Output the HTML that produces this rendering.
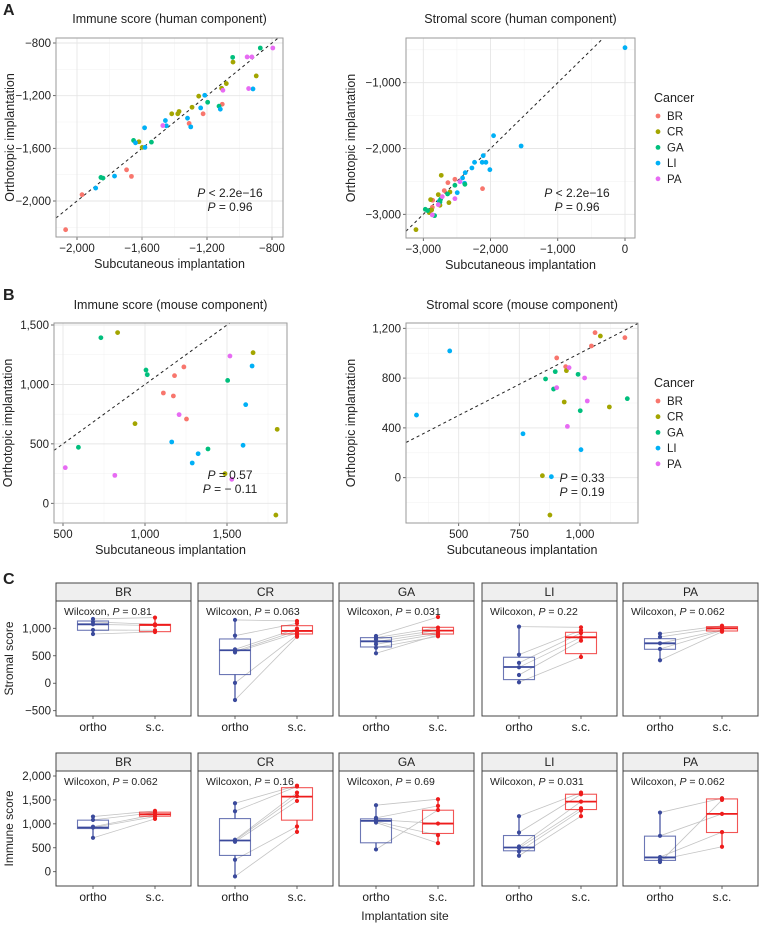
<!DOCTYPE html>
<html><head><meta charset="utf-8"><style>
html,body{margin:0;padding:0;background:#fff;width:760px;height:927px;overflow:hidden;}
svg{display:block;overflow:hidden;}
svg text{font-family:"Liberation Sans",Arial,sans-serif;fill:#222;}
</style></head><body>
<svg id="fig" xmlns="http://www.w3.org/2000/svg" width="760" height="927" viewBox="0 0 760 927">
<text x="3" y="15" font-size="16" font-weight="bold">A</text>
<text x="3" y="300" font-size="16" font-weight="bold">B</text>
<text x="3" y="584" font-size="16" font-weight="bold">C</text>
</svg>
<script>
const NS="http://www.w3.org/2000/svg";
const svg=document.getElementById('fig');
const COLORS={BR:"#F8766D",CR:"#A3A500",GA:"#00BF7D",LI:"#00B0F6",PA:"#E76BF3"};
const cancers=["BR","CR","GA","LI","PA"];

// ---- Panel A left: immune (human)
const aL_x=[-2070,-1969,-1695,-1665,-1310,-1224,-1106, -1040,-897,-1081,-1110,-1251,-1292,-1372,-1380,-1417,-1619,-1599, -872,-1042,-1196,-1126,-1542,-1652,-1853,-1840, -1214,-1239,-1118,-917,-1320,-1300,-1456,-1450,-1584,-1582,-1640,-1769,-1885, -795,-953,-924,-944,-1102,-1472];
const aL_y=[-2218,-1952,-1763,-1813,-1411,-1338,-1265, -945,-1050,-1108,-1144,-1204,-1288,-1320,-1338,-1338,-1550,-1593, -838,-909,-1250,-1280,-1553,-1540,-1821,-1826, -1197,-1293,-1303,-1149,-1371,-1437,-1389,-1429,-1444,-1593,-1558,-1811,-1902, -838,-906,-906,-1146,-1159,-1427];
const aL_c=["BR","BR","BR","BR","BR","BR","BR","CR","CR","CR","CR","CR","CR","CR","CR","CR","CR","CR","GA","GA","GA","GA","GA","GA","GA","GA","LI","LI","LI","LI","LI","LI","LI","LI","LI","LI","LI","LI","LI","PA","PA","PA","PA","PA","PA"];
const aL_xticks=[-2000,-1600,-1200,-800];
const aL_yticks=[-2000,-1600,-1200,-800];
const aL_stats=["P < 2.2e−16","P = 0.96"];

// ---- Panel A right: stromal (human)
const aR_x=[0,-1955,-1545,-2109,-2238,-2124,-2069,-2010,-2277,-2376,-2416,-2386,-2495,-2762, -2530,-2634,-2119,-2688,-2861,-2866, -2733,-2777,-2604,-2619,-2752,-2891,-2876,-2911,-3109, -2530,-2381,-2639,-2743,-2752,-2970,-2832,-2936, -2455,-2530,-2718,-2777,-2866];
const aR_y=[-468,-1805,-1962,-2109,-2210,-2210,-2210,-2322,-2296,-2367,-2448,-2529,-2671,-2803, -2468,-2519,-2610,-2640,-2787,-2894, -2408,-2701,-2661,-2823,-2863,-2777,-2934,-2975,-3233, -2559,-2544,-2691,-2772,-2813,-2924,-3020,-2944, -2504,-2762,-2732,-2853,-3010];
const aR_c=["LI","LI","LI","LI","LI","LI","LI","LI","LI","LI","LI","LI","LI","LI","BR","BR","BR","BR","BR","BR","CR","CR","CR","CR","CR","CR","CR","CR","CR","GA","GA","GA","GA","GA","GA","GA","GA","PA","PA","PA","PA","PA"];
const aR_xticks=[-3000,-2000,-1000,0];
const aR_yticks=[-3000,-2000,-1000];
const aR_stats=["P < 2.2e−16","P = 0.96"];

// ---- Panel B left: immune (mouse)
const bL_x=[731,1006,1014,1504,594,1384, 833,1659,939,1806,1488,1798, 1237,1180,1112,1173,1253, 1653,1614,1163,1598,1324,1288, 1518,1208,514,816,1529];
const bL_y=[1393,1121,1082,1034,471,457, 1436,1267,670,622,249,-99, 1147,1074,928,903,709, 1155,830,516,488,417,339, 1239,746,300,235,202];
const bL_c=["GA","GA","GA","GA","GA","GA","CR","CR","CR","CR","CR","CR","BR","BR","BR","BR","BR","LI","LI","LI","LI","LI","LI","PA","PA","PA","PA","PA"];
const bL_xticks=[500,1000,1500];
const bL_yticks=[0,500,1000,1500];
const bL_stats=["P = 0.57","P = − 0.11"];

// ---- Panel B right: stromal (mouse)
const bR_x=[1062,1047,1185,904,941, 1084,944,935,1121,845,876, 898,992,858,891,1195,1001, 463,326,765,1004,882, 955,1019,904,1030,948];
const bR_y=[1165,1058,1125,962,892, 1138,860,608,568,16,-300, 852,830,793,712,635,538, 1018,503,353,225,8, 884,801,723,616,412];
const bR_c=["BR","BR","BR","BR","BR","CR","CR","CR","CR","CR","CR","GA","GA","GA","GA","GA","GA","LI","LI","LI","LI","LI","PA","PA","PA","PA","PA"];
const bR_xticks=[500,750,1000];
const bR_yticks=[0,400,800,1200];
const bR_stats=["P = 0.33","P = 0.19"];

// ---- Panel C: paired box plots
const c_groups=["BR","CR","GA","LI","PA"];
const str_ortho=[[1170,1116,1073,970,896],[1152,866,616,579,561,6,-305],[860,830,800,757,709,647,545],[1030,520,370,290,150,18],[902,842,727,624,418]];
const str_sc=[[1195,1073,1050,963,933],[1134,1091,994,957,915,878,847],[1205,1012,963,927,896,854,880],[1018,963,915,836,775,478],[1047,1011,969,960,938]];
const str_obox=[[964,1073,1133],[158,600,806],[660,763,830],[66,296,473],[618,727,811]];
const str_sbox=[[939,1061,1073],[897,952,1048],[896,957,1018],[539,836,927],[951,1000,1030]];
const str_p=["0.81","0.063","0.031","0.22","0.062"];
const imm_ortho=[[1152,1083,940,923,708],[1431,1264,667,650,625,250,-98],[1390,1125,1090,1048,1027,465],[1160,819,527,494,423,333],[1236,750,306,250,202]];
const imm_sc=[[1271,1236,1194,1152,1104],[1798,1780,1652,1579,1479,944,833],[1515,1375,1006,765,598,1290],[1652,1619,1465,1327,1278,1160],[1535,1208,827,521,1500]];
const imm_obox=[[902,923,1077],[340,652,1110],[604,1062,1104],[437,506,756],[236,298,743]];
const imm_sbox=[[1160,1200,1244],[1077,1569,1756],[799,1006,1285],[1299,1465,1619],[819,1208,1521]];
const imm_p=["0.062","0.16","0.69","0.031","0.062"];

function el(tag,attrs,parent){const e=document.createElementNS(NS,tag);for(const k in attrs)e.setAttribute(k,attrs[k]);(parent||svg).appendChild(e);return e;}
function txt(s,x,y,attrs,parent){const t=el('text',Object.assign({x:x,y:y},attrs||{}),parent);t.textContent=s;return t;}
function fmt(v){const a=Math.abs(v);const s=a.toLocaleString('en-US');return (v<0?'−':'')+s;}
function lin(d0,p0,d1,p1){return v=>p0+(v-d0)*(p1-p0)/(d1-d0);}
function inv(d0,p0,d1,p1){return p=>d0+(p-p0)*(d1-d0)/(p1-p0);}
function richP(s,x,y,parent,name){
  const t=el('text',{x:x,y:y,'font-size':12,'text-anchor':'middle'},parent);
  
  
  const ts=el('tspan',{'font-style':'italic'},t);ts.textContent='P';
  const r=el('tspan',{},t);r.textContent=s.slice(1);
  return t;
}

function scatter(cfg){
  const g=el('g',{});
  
  
  const [x0,y0,x1,y1]=cfg.box;
  const sx=lin(...cfg.xcal), sy=lin(...cfg.ycal);
  const ix=inv(...cfg.xcal), iy=inv(...cfg.ycal);
  const minor=(ticks)=>{const st=ticks[1]-ticks[0];const m=[];for(let i=-1;i<ticks.length;i++){m.push(ticks[0]+st*(i+0.5));}return m;};
  minor(cfg.xt).forEach(v=>{const p=sx(v);if(p>x0&&p<x1)el('line',{x1:p,x2:p,y1:y0,y2:y1,stroke:'#f3f3f3','stroke-width':0.6},g);});
  minor(cfg.yt).forEach(v=>{const p=sy(v);if(p>y0&&p<y1)el('line',{x1:x0,x2:x1,y1:p,y2:p,stroke:'#f3f3f3','stroke-width':0.6},g);});
  cfg.xt.forEach(v=>{const p=sx(v);
    const l=el('line',{x1:p,x2:p,y1:y0,y2:y1,stroke:'#e6e6e6','stroke-width':0.9},g);
    
    
    el('line',{x1:p,x2:p,y1:y1,y2:y1+3,stroke:'#444','stroke-width':0.8},g);
    const t=txt(fmt(v),p,y1+15,{'font-size':11.5,'text-anchor':'middle'},g);
    
    
  });
  cfg.yt.forEach(v=>{const p=sy(v);
    const l=el('line',{x1:x0,x2:x1,y1:p,y2:p,stroke:'#e6e6e6','stroke-width':0.9},g);
    
    
    el('line',{x1:x0-3,x2:x0,y1:p,y2:p,stroke:'#444','stroke-width':0.8},g);
    const t=txt(fmt(v),x0-5,p+4,{'font-size':11.5,'text-anchor':'end'},g);
    
    
  });
  // identity line clipped to box analytically
  const lo=Math.max(ix(x0),iy(y1)), hi=Math.min(ix(x1),iy(y0));
  const dl=el('line',{x1:sx(lo),y1:sy(lo),x2:sx(hi),y2:sy(hi),stroke:'#222','stroke-width':1,'stroke-dasharray':'3,3'},g);
  
  
  for(let i=0;i<cfg.x.length;i++){
    const c=el('circle',{cx:sx(cfg.x[i]),cy:sy(cfg.y[i]),r:2.4,fill:COLORS[cfg.c[i]]},g);
    
    
  }
  const b=el('rect',{x:x0,y:y0,width:x1-x0,height:y1-y0,fill:'none',stroke:'#9a9a9a','stroke-width':1},g);
  
  
  const tt=txt(cfg.title,(x0+x1)/2,cfg.titleY,{'font-size':12.5,'text-anchor':'middle'},g);
  
  
  const xt=txt('Subcutaneous implantation',(x0+x1)/2,y1+31,{'font-size':12.5,'text-anchor':'middle'},g);
  
  
  const yx=cfg.ytitleX, ym=(y0+y1)/2;
  const yt=txt('Orthotopic implantation',yx,ym,{'font-size':12.5,'text-anchor':'middle',transform:'rotate(-90 '+yx+' '+ym+')'},g);
  
  
  richP(cfg.stats[0],cfg.statXY[0],cfg.statXY[1],g,'p-value-label');
  richP(cfg.stats[1],cfg.statXY[0],cfg.statXY[1]+14,g,'correlation-label');
  if(cfg.legend){
    const [lx,ly]=cfg.legend;
    const lg=el('g',{},g);
    
    
    txt('Cancer',lx,ly,{'font-size':12.5},lg);
    cancers.forEach((k,i)=>{
      const e=el('g',{},lg);
      
      
      el('circle',{cx:lx+4,cy:ly+14+i*15.7,r:2.4,fill:COLORS[k]},e);
      txt(k,lx+13,ly+18+i*15.7,{'font-size':11.5},e);
    });
  }
}

scatter({name:'immune-human-scatter',box:[56,38,283,237],xcal:[-2000,77,-800,272],ycal:[-800,43,-2000,201],xt:aL_xticks,yt:aL_yticks,x:aL_x,y:aL_y,c:aL_c,title:'Immune score (human component)',titleY:23,ytitleX:14,stats:aL_stats,statXY:[230,197]});
scatter({name:'stromal-human-scatter',box:[406,38,635,238],xcal:[-3000,423.3,0,625],ycal:[-1000,82.7,-3000,214.3],xt:aR_xticks,yt:aR_yticks,x:aR_x,y:aR_y,c:aR_c,title:'Stromal score (human component)',titleY:23,ytitleX:355,stats:aR_stats,statXY:[577,197],legend:[654,102]});
scatter({name:'immune-mouse-scatter',box:[54,323,287,523],xcal:[500,63,1500,227],ycal:[1500,325,0,503.3],xt:bL_xticks,yt:bL_yticks,x:bL_x,y:bL_y,c:bL_c,title:'Immune score (mouse component)',titleY:309,ytitleX:12,stats:bL_stats,statXY:[230,479]});
scatter({name:'stromal-mouse-scatter',box:[406,323,638,523],xcal:[500,458.7,1000,580],ycal:[1200,328.3,0,477.7],xt:bR_xticks,yt:bR_yticks,x:bR_x,y:bR_y,c:bR_c,title:'Stromal score (mouse component)',titleY:309,ytitleX:355,stats:bR_stats,statXY:[582,482],legend:[654,387]});

// ---- Panel C
const panelX=[56,198,339,482,623], PW=135;
function boxRow(cfg){
  const sy=lin(...cfg.ycal);
  c_groups.forEach((grp,gi)=>{
    const px=panelX[gi];
    const g=el('g',{});
    
    
    const st=el('rect',{x:px,y:cfg.strip[0],width:PW,height:cfg.strip[1]-cfg.strip[0],fill:'#efefef',stroke:'#444','stroke-width':1},g);
    
    
    txt(grp,px+PW/2,cfg.strip[1]-5,{'font-size':12,'text-anchor':'middle'},g);
    const y0=cfg.strip[1],y1=cfg.bottom;
    el('rect',{x:px,y:y0,width:PW,height:y1-y0,fill:'#fff',stroke:'none'},g);
    const ox=px+37, sx=px+99;
    const O=cfg.o[gi], S=cfg.s[gi];
    for(let i=0;i<Math.min(O.length,S.length);i++){
      const l=el('line',{x1:ox,y1:sy(O[i]),x2:sx,y2:sy(S[i]),stroke:'#c4c4c4','stroke-width':0.8},g);
      
      
    }
    [[ox,O,cfg.ob[gi],'#3B4A9C','ortho'],[sx,S,cfg.sb[gi],'#EE1C1C','sc']].forEach(([cx,pts,bx,col,nm])=>{
      const [q1,md,q3]=bx, iqr=q3-q1;
      const inr=pts.filter(v=>v>=q1-1.5*iqr&&v<=q3+1.5*iqr);
      const wlo=Math.min(q1,...inr), whi=Math.max(q3,...inr);
      el('line',{x1:cx,x2:cx,y1:sy(whi),y2:sy(q3),stroke:col,'stroke-width':1.2},g);
      el('line',{x1:cx,x2:cx,y1:sy(q1),y2:sy(wlo),stroke:col,'stroke-width':1.2},g);
      const r=el('rect',{x:cx-15.5,y:sy(q3),width:31,height:Math.max(1,sy(q1)-sy(q3)),fill:'none',stroke:col,'stroke-opacity':0.75,'stroke-width':1.1},g);
      
      
      el('line',{x1:cx-15.5,x2:cx+15.5,y1:sy(md),y2:sy(md),stroke:col,'stroke-width':1.8},g);
      pts.forEach(v=>{
        const c=el('circle',{cx:cx,cy:sy(v),r:2.1,fill:col},g);
        
        
      });
    });
    const b=el('rect',{x:px,y:y0,width:PW,height:y1-y0,fill:'none',stroke:'#444','stroke-width':1},g);
    
    
    const w=el('text',{x:px+8,y:y0+14,'font-size':10.5},g);
    
    
    const a=el('tspan',{},w);a.textContent='Wilcoxon, ';
    const b2=el('tspan',{'font-style':'italic'},w);b2.textContent='P';
    const c2=el('tspan',{},w);c2.textContent=' = '+cfg.p[gi];
    [[ox,'ortho'],[sx,'s.c.']].forEach(([cx,lab])=>{
      el('line',{x1:cx,x2:cx,y1:y1,y2:y1+3,stroke:'#444','stroke-width':0.8},g);
      const t=txt(lab,cx,y1+15,{'font-size':12,'text-anchor':'middle'},g);
      
      
    });
  });
  const px=panelX[0];
  cfg.yt.forEach(v=>{const p=sy(v);
    el('line',{x1:px-3,x2:px,y1:p,y2:p,stroke:'#444','stroke-width':0.8});
    const t=txt(fmt(v),px-5,p+4,{'font-size':11.5,'text-anchor':'end'});
    
    
  });
  const ym=(cfg.strip[1]+cfg.bottom)/2;
  const yt=txt(cfg.ytitle,13,ym,{'font-size':12,'text-anchor':'middle',transform:'rotate(-90 13 '+ym+')'});
  
  
}
boxRow({key:'stromal',strip:[583,601],bottom:716,ycal:[1000,628.3,-500,710.7],yt:[-500,0,500,1000],o:str_ortho,s:str_sc,ob:str_obox,sb:str_sbox,p:str_p,ytitle:'Stromal score'});
boxRow({key:'immune',strip:[753,771],bottom:886,ycal:[2000,776,0,871.7],yt:[0,500,1000,1500,2000],o:imm_ortho,s:imm_sc,ob:imm_obox,sb:imm_sbox,p:imm_p,ytitle:'Immune score'});
const xt=txt('Implantation site',405,920,{'font-size':12,'text-anchor':'middle'});


</script>
</body></html>
